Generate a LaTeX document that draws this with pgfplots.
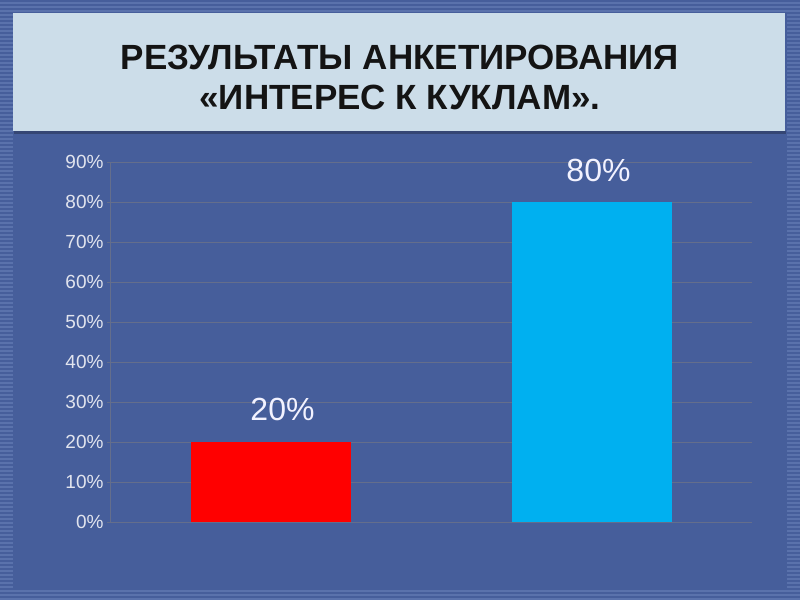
\documentclass[border=0pt]{standalone}
\usepackage{fontspec}
\setmainfont{Liberation Sans}
\usepackage{pgfplots}
\pgfplotsset{compat=1.18}
\definecolor{bg}{RGB}{70,94,155}
\definecolor{stripe}{RGB}{90,114,172}
\definecolor{titlebox}{RGB}{204,221,233}
\definecolor{gridc}{RGB}{100,110,140}
\definecolor{tickc}{RGB}{225,228,238}
\definecolor{barred}{RGB}{255,0,0}
\definecolor{barcyan}{RGB}{0,176,240}
\begin{document}
\begin{tikzpicture}[x=1pt,y=1pt]
\fill[bg] (0,0) rectangle (800,600);
\foreach \y in {0,4,...,596} {
  \fill[stripe] (0,\y) rectangle (13,\y+2);
  \fill[stripe] (787,\y) rectangle (800,\y+2);
}
\foreach \y in {0,4,8,588,592,596} {
  \fill[stripe] (13,\y) rectangle (787,\y+2);
}
\fill[black!25!bg] (14,466) rectangle (786,469);
\fill[titlebox] (13,469) rectangle (785,587);
\node[align=center, font=\bfseries\fontsize{35}{40}\selectfont, text=black!92] at (400,523)
  {РЕЗУЛЬТАТЫ АНКЕТИРОВАНИЯ\\«ИНТЕРЕС К КУКЛАМ».};
\begin{axis}[
  at={(110pt,78pt)}, anchor=south west,
  scale only axis, width=642pt, height=360pt,
  ybar, bar width=160pt,
  xmin=-0.5, xmax=1.5, ymin=0, ymax=90,
  xtick=\empty,
  ytick={0,10,...,90},
  yticklabel={\pgfmathprintnumber{\tick}\%},
  /pgf/number format/assume math mode=true,
  yticklabel style={font=\fontsize{19}{21}\selectfont, text=tickc},
  ymajorgrids, grid style={gridc, line width=0.8pt},
  axis lines*=left,
  axis line style={gridc, line width=0.8pt},
  tick align=outside, major tick length=3pt,
  tick style={gridc},
  clip=false,
  nodes near coords={\pgfmathprintnumber{\pgfplotspointmeta}\%},
  nodes near coords style={font=\fontsize{32}{36}\selectfont, text=white!95!blue, anchor=base},
]
\addplot[fill=barred, draw=none, bar shift=0pt,
  nodes near coords style={xshift=12pt, yshift=22pt}] coordinates {(0,20)};
\addplot[fill=barcyan, draw=none, bar shift=0pt,
  nodes near coords style={xshift=7pt, yshift=21pt}] coordinates {(1,80)};
\end{axis}
\end{tikzpicture}
\end{document}
